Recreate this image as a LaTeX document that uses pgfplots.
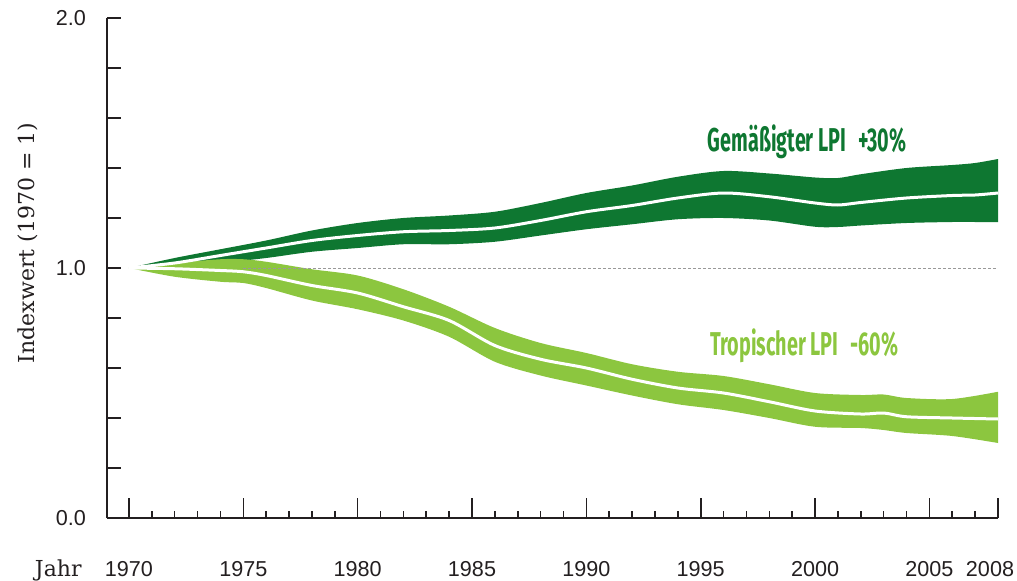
\documentclass[border=0pt]{standalone}
\usepackage{fontspec}
\setmainfont{Liberation Sans}
\newfontfamily\seriffont{DejaVu Serif}
\newfontfamily\annotfont{Fira Sans}
\usepackage{pgfplots}
\usepackage{pgfplotstable}
\pgfplotsset{compat=1.18}
\usepgfplotslibrary{fillbetween}
\definecolor{dkgreen}{RGB}{14,119,49}
\definecolor{ltgreen}{RGB}{140,198,63}
\definecolor{axisgray}{RGB}{35,31,32}

\pgfplotstableread{
year lo mid hi
1970 1.000 1.000 1.000
1972 1.005 1.020 1.040
1974 1.020 1.050 1.075
1976 1.040 1.080 1.110
1978 1.065 1.110 1.150
1980 1.080 1.130 1.180
1982 1.095 1.145 1.200
1984 1.095 1.150 1.210
1986 1.105 1.160 1.225
1988 1.130 1.190 1.260
1990 1.155 1.225 1.300
1992 1.175 1.250 1.330
1994 1.195 1.280 1.365
1996 1.200 1.300 1.388
1998 1.190 1.285 1.378
2000 1.165 1.260 1.362
2001 1.164 1.252 1.360
2002 1.170 1.262 1.375
2004 1.180 1.280 1.400
2006 1.184 1.290 1.412
2007 1.184 1.292 1.420
2008 1.184 1.300 1.436
}\temperate

\pgfplotstableread{
year lo mid hi
1970 1.000 1.000 1.000
1972 0.965 0.997 1.020
1974 0.945 0.990 1.035
1975 0.940 0.985 1.035
1976 0.920 0.970 1.025
1978 0.870 0.930 0.995
1980 0.835 0.900 0.970
1982 0.790 0.845 0.915
1984 0.725 0.790 0.845
1986 0.625 0.690 0.760
1988 0.570 0.635 0.700
1990 0.530 0.600 0.660
1992 0.490 0.555 0.615
1994 0.455 0.520 0.585
1996 0.432 0.500 0.568
1998 0.400 0.465 0.535
2000 0.365 0.428 0.500
2002 0.360 0.416 0.492
2003 0.352 0.420 0.494
2004 0.340 0.405 0.480
2006 0.328 0.400 0.476
2008 0.300 0.396 0.505
}\tropical

\begin{document}
\begin{tikzpicture}
\begin{axis}[
  at={(0,0)}, anchor=south west,
  scale only axis,
  width=445.5pt, height=250pt,
  xmin=1969.04, xmax=2008,
  ymin=0, ymax=2,
  axis x line=bottom, axis y line=left,
  axis line style={-, line width=1pt, color=axisgray},
  tick style={line width=0.8pt, color=axisgray},
  tick align=inside,
  major tick length=7pt,
  minor tick length=3.5pt,
  xtick style={/pgfplots/major tick length=10pt},
  xtick={1970,1975,1980,1985,1990,1995,2000,2005,2008},
  minor xtick={1971,1972,1973,1974,1976,1977,1978,1979,1981,1982,1983,1984,1986,1987,1988,1989,1991,1992,1993,1994,1996,1997,1998,1999,2001,2002,2003,2004,2006,2007},
  xticklabels={1970,1975,1980,1985,1990,1995,2000,2005,{\hspace*{-8pt}2008}},
  ytick={0,0.2,0.4,0.6,0.8,1.0,1.2,1.4,1.6,1.8,2.0},
  yticklabels={0.0,,,,,1.0,,,,,2.0},
  /pgf/number format/assume math mode=true,
  ticklabel style={font=\fontsize{10.8}{13}\selectfont, text=axisgray},
  xticklabel style={anchor=base, yshift=-29pt},
  yticklabel style={anchor=east, xshift=-7pt},
  clip=false,
]
% temperate band
\addplot[name path=tu, draw=none, smooth, tension=0.5] table[x=year,y=hi] {\temperate};
\addplot[name path=tl, draw=none, smooth, tension=0.5] table[x=year,y=lo] {\temperate};
\addplot[dkgreen, draw=none] fill between[of=tu and tl];
\addplot[white, line width=1.5pt, smooth, tension=0.5] table[x=year,y=mid] {\temperate};
% tropical band
\addplot[name path=pu, draw=none, smooth, tension=0.5] table[x=year,y=hi] {\tropical};
\addplot[name path=pl, draw=none, smooth, tension=0.5] table[x=year,y=lo] {\tropical};
\addplot[ltgreen, draw=none] fill between[of=pu and pl];
\addplot[white, line width=1.5pt, smooth, tension=0.5] table[x=year,y=mid] {\tropical};
% reference line
\addplot[gray!80, line width=0.5pt, dash pattern=on 1.5pt off 1pt] coordinates {(1975,1) (2008,1)};

\node[anchor=base west, inner sep=0pt, text=dkgreen, font=\annotfont\bfseries\fontsize{16.5}{18}\selectfont]
  at (axis cs:1995.3,1.468) {\scalebox{0.6}[1]{Gemäßigter LPI\hspace{0.6em}+30\%}};
\node[anchor=base west, inner sep=0pt, text=ltgreen, font=\annotfont\bfseries\fontsize{16.5}{18}\selectfont]
  at (axis cs:1995.4,0.652) {\scalebox{0.6}[1]{Tropischer LPI\hspace{0.6em}-60\%}};

\node[anchor=base east, inner sep=0pt, text=axisgray, font=\seriffont\fontsize{11}{13}\selectfont]
  at (rel axis cs:0,0) [xshift=-12.5pt, yshift=-29pt] {Jahr};
\node[xshift=-39.5pt, rotate=90, inner sep=0pt, text=axisgray, font=\seriffont\fontsize{11}{13}\selectfont]
  at (rel axis cs:0,0.55) {Indexwert (1970 = 1)};
\end{axis}
\pgfresetboundingbox
\path[use as bounding box] (-53.5pt,-31pt) rectangle (455pt,259pt);
\end{tikzpicture}
\end{document}
